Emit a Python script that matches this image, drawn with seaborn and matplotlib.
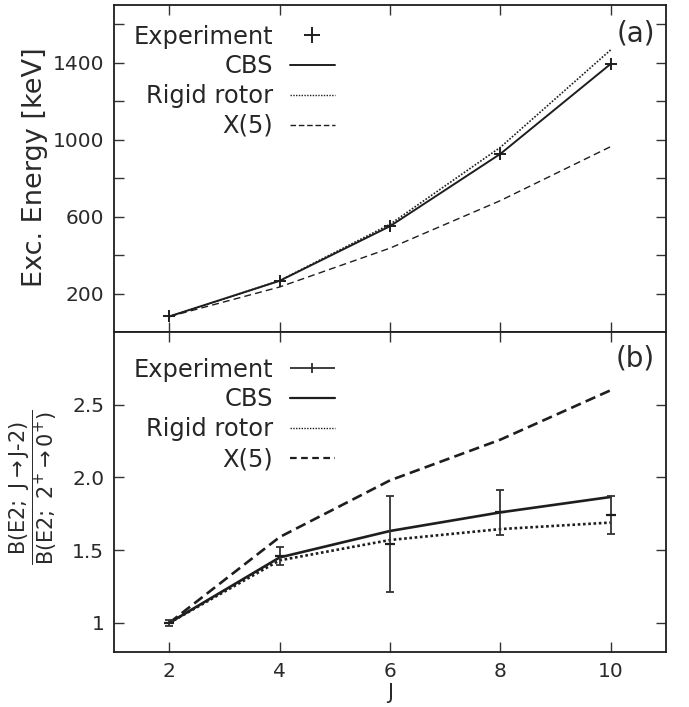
import matplotlib
matplotlib.use("Agg")
import matplotlib.pyplot as plt
from matplotlib.legend_handler import HandlerErrorbar
from matplotlib.lines import Line2D
import seaborn as sns
import numpy as np

# spin values
J = [2, 4, 6, 8, 10]

# (a) excitation energies [keV]
e_exp = [81, 266, 550, 926, 1394]
e_cbs = [81, 266, 550, 926, 1394]
e_rigid = [80, 267, 560, 960, 1467]
e_x5 = [80, 234, 436, 683, 964]

# (b) B(E2) ratios
b_exp = [1.0, 1.46, 1.54, 1.76, 1.74]
b_err = [0.02, 0.065, 0.33, 0.155, 0.13]
b_cbs = [1.0, 1.45, 1.632, 1.76, 1.866]
b_rigid = [1.0, 1.43, 1.57, 1.645, 1.69]
b_x5 = [1.0, 1.59, 1.98, 2.26, 2.60]

sns.set_theme(style="ticks")
plt.rcParams["font.family"] = ["DejaVu Sans"]
plt.rcParams["mathtext.fontset"] = "dejavusans"

ink = "#1e1e1e"
txt = "#2a2a2a"

fig = plt.figure(figsize=(6.89, 7.07), dpi=100)
ax1 = fig.add_axes([0.1655, 0.5304, 0.8011, 0.4626])
ax2 = fig.add_axes([0.1655, 0.0778, 0.8011, 0.4526])

# ---- panel (a)
sns.lineplot(x=J, y=e_cbs, ax=ax1, color=ink, lw=1.4)
sns.lineplot(x=J, y=e_rigid, ax=ax1, color=ink, lw=1.2, linestyle=(0, (1, 1)))
sns.lineplot(x=J, y=e_x5, ax=ax1, color=ink, lw=1.0, linestyle=(0, (5, 3)))
sns.scatterplot(x=J, y=e_exp, ax=ax1, marker="+", s=70, color=ink,
                linewidth=1.4, zorder=5)

ax1.set_xlim(1, 11)
ax1.set_ylim(0, 1700)
ax1.set_yticks(np.arange(200, 1700, 200))
ax1.set_yticklabels(["200", "", "600", "", "1000", "", "1400", ""])
ax1.set_xticks(J)
ax1.tick_params(labelbottom=False)
ax1.set_ylabel("Exc. Energy [keV]", fontsize=19.5, color=txt)
ax1.yaxis.set_label_coords(-0.12, 0.505)
ax1.text(0.98, 0.955, "(a)", transform=ax1.transAxes, ha="right", va="top",
         fontsize=20, color=txt)

h1 = [Line2D([], [], ls="none", marker="+", ms=11, mew=1.4, color=ink),
      Line2D([], [], color=ink, lw=1.4),
      Line2D([], [], color=ink, lw=1.0, linestyle=(0, (1, 1))),
      Line2D([], [], color=ink, lw=1.0, linestyle=(0, (4, 2)))]
ax1.legend(h1, ["Experiment", "CBS", "Rigid rotor", "X(5)"], loc="upper left",
           bbox_to_anchor=(0.035, 0.94), frameon=False, markerfirst=False,
           fontsize=17.4, handlelength=1.86, handletextpad=0.7,
           labelspacing=0.24, borderpad=0, borderaxespad=0, numpoints=1)

# ---- panel (b)
sns.lineplot(x=J, y=b_cbs, ax=ax2, color=ink, lw=1.9)
sns.lineplot(x=J, y=b_rigid, ax=ax2, color=ink, lw=1.9, linestyle=(0, (1, 1)))
sns.lineplot(x=J, y=b_x5, ax=ax2, color=ink, lw=1.9, linestyle=(0, (4, 2)))
ax2.errorbar(J, b_exp, yerr=b_err, fmt="none", ecolor="#333333", elinewidth=1.3,
             capsize=3, capthick=1.3, zorder=5)
sns.scatterplot(x=J, y=b_exp, ax=ax2, marker="_", s=55, color=ink,
                linewidth=1.6, zorder=6)

ax2.set_xlim(1, 11)
ax2.set_ylim(0.8, 3.0)
ax2.set_xticks(J)
ax2.set_yticks([1, 1.5, 2.0, 2.5])
ax2.set_yticklabels(["1", "1.5", "2.0", "2.5"])
ax2.set_xlabel("J", fontsize=15, color=txt, labelpad=2)
ax2.set_ylabel(r"$\dfrac{\mathrm{B(E2;\ J \rightarrow J}\text{-}\mathrm{2)}}"
               r"{\mathrm{B(E2;\ 2^{+} \rightarrow 0^{+})}}$",
               fontsize=15, color=txt)
ax2.yaxis.set_label_coords(-0.10, 0.515)
ax2.text(0.98, 0.96, "(b)", transform=ax2.transAxes, ha="right", va="top",
         fontsize=20, color=txt)

dummy = ax2.errorbar([], [], xerr=[], fmt="|", color=ink, ms=7, mew=1.2,
                     elinewidth=1.2, capsize=3, capthick=1.2)
h2 = [dummy,
      Line2D([], [], color=ink, lw=1.6),
      Line2D([], [], color=ink, lw=1.0, linestyle=(0, (1, 1))),
      Line2D([], [], color=ink, lw=1.6, linestyle=(0, (3, 2)))]
ax2.legend(h2, ["Experiment", "CBS", "Rigid rotor", "X(5)"], loc="upper left",
           bbox_to_anchor=(0.035, 0.92), frameon=False, markerfirst=False,
           fontsize=17.4, handlelength=1.86, handletextpad=0.7,
           labelspacing=0.24, borderpad=0, borderaxespad=0, numpoints=1,
           handler_map={type(dummy): HandlerErrorbar(xerr_size=0.93)})

for ax in (ax1, ax2):
    ax.tick_params(direction="in", top=True, right=True, length=7, width=1.0,
                   color="#333333", labelsize=14.5, labelcolor=txt, pad=7)
    for s in ax.spines.values():
        s.set_linewidth(1.3)
        s.set_color(ink)

fig.savefig("out.png", dpi=100)
